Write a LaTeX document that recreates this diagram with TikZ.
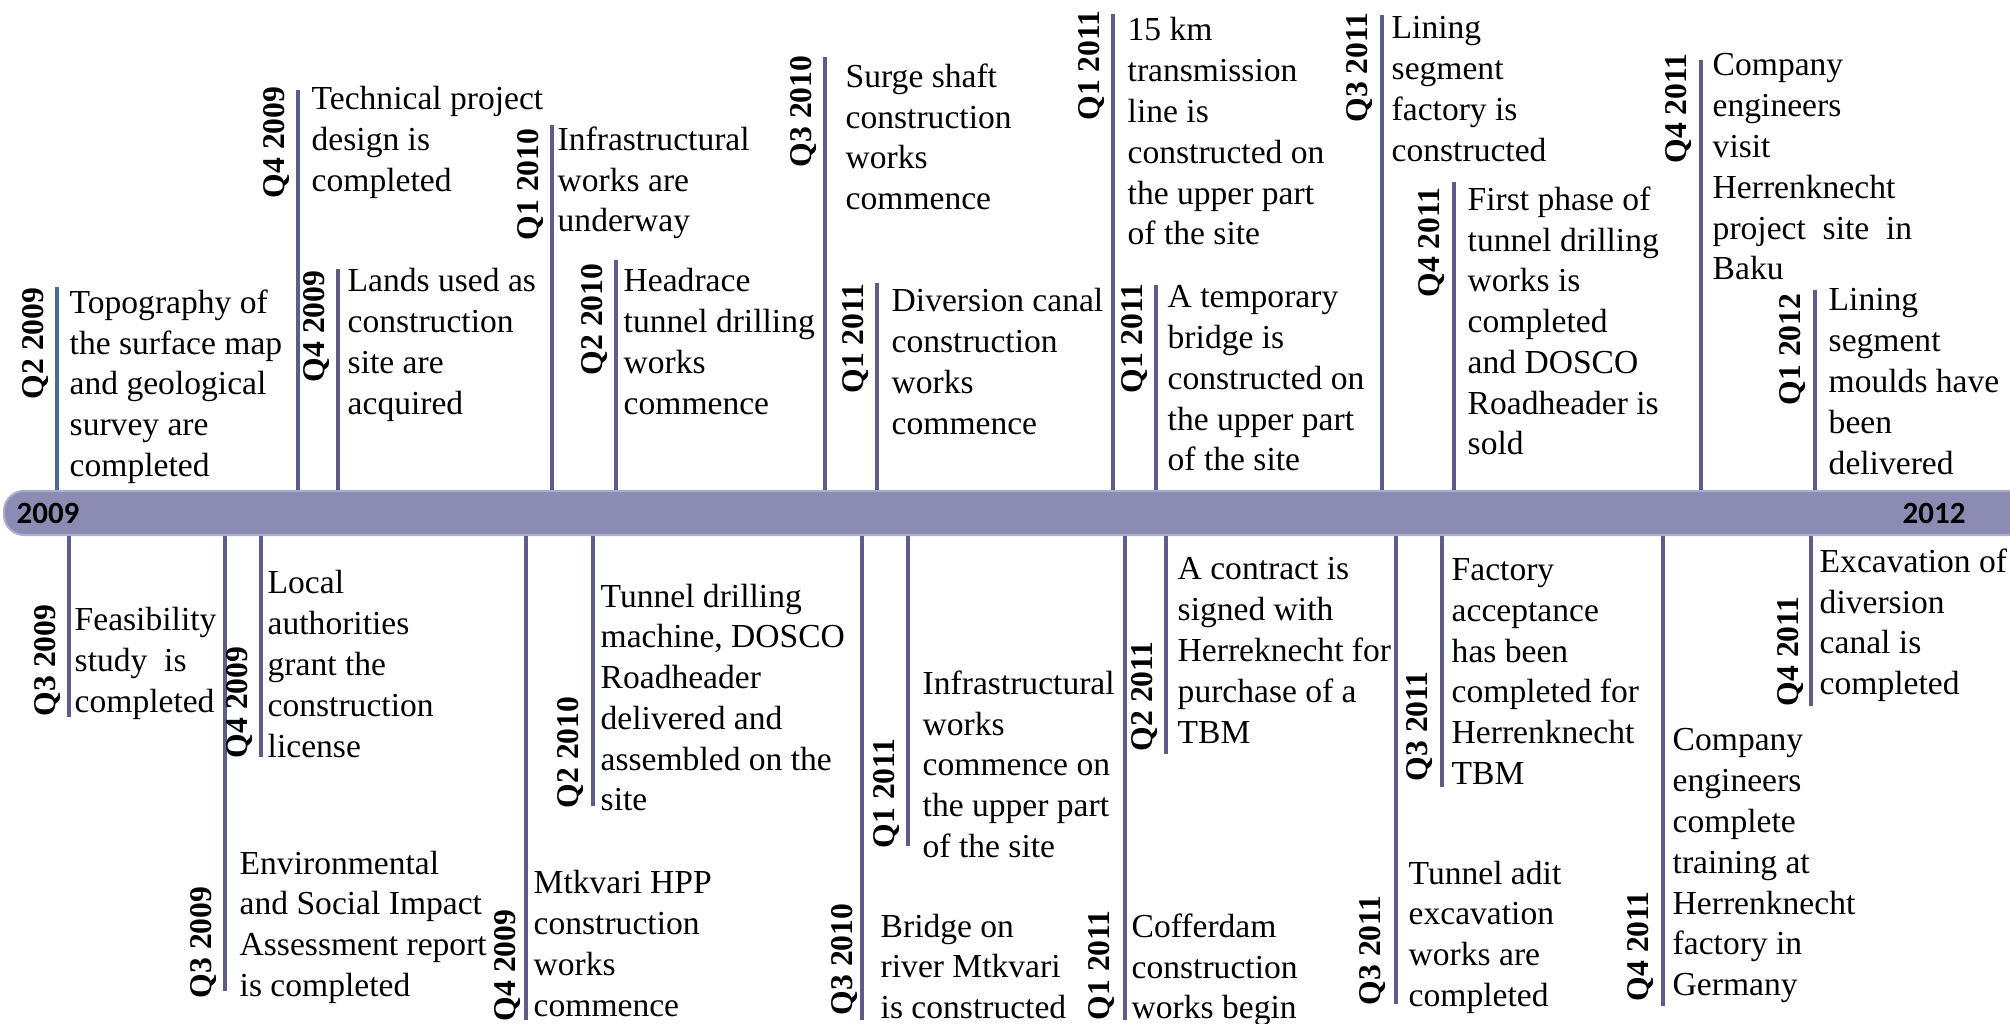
\documentclass[tikz,border=0pt]{standalone}
\usepackage{fontspec}
\setmainfont{Liberation Serif}
\newfontfamily\yearfamily{Carlito}
\newcommand{\evfont}{\fontsize{9.55}{11.6}\selectfont}
\newcommand{\qfont}{\fontsize{9}{10}\selectfont\bfseries}
\newcommand{\yrfont}{\yearfamily\fontsize{8.8}{10}\selectfont\bfseries}

\definecolor{barfill}{RGB}{139,139,179}
\definecolor{barline}{RGB}{172,172,206}
\definecolor{stemcol}{RGB}{92,92,144}
\definecolor{stemblue}{RGB}{72,108,158}

\begin{document}
\begin{tikzpicture}[x=0.1mm,y=-0.1mm,line cap=round,line join=round,
    stem/.style={stemcol,line width=1pt,line cap=butt},
    qlabel/.style={rotate=90,inner sep=0pt,font=\qfont},
    evtext/.style={anchor=north west,inner sep=0pt,align=left,font=\evfont}]
        \useasboundingbox (0,0) rectangle (2010,1024);

        \node[draw=barline,fill=barfill,line width=0.6pt,rounded corners=2mm,
            minimum width=203mm,minimum height=4.4mm,anchor=west,inner sep=0pt]
            (bar) at (3,513) {};
        \node[font=\yrfont,anchor=west,inner sep=0pt] (y2009) at (16,513) {2009};
        \node[font=\yrfont,anchor=west,inner sep=0pt] (y2012) at (1902,513) {2012};

        % above the bar
        \coordinate (sA) at (57,287);
        \draw[stem,stemblue] (sA) -- (sA |- bar.north);
        \node[qlabel,anchor=east] (qA) at (36,287) {Q2 2009};
        \node[evtext] (tA) at (69,289)
            {Topography of\\the surface map\\and geological\\survey are\\completed};

        \coordinate (sB) at (298,90);
        \draw[stem] (sB) -- (sB |- bar.north);
        \node[qlabel,anchor=east] (qB) at (277,86) {Q4 2009};
        \node[evtext] (tB) at (311,86)
            {Technical project\\design is\\completed};

        \coordinate (sC) at (338,269);
        \draw[stem] (sC) -- (sC |- bar.north);
        \node[qlabel,anchor=east] (qC) at (317,270) {Q4 2009};
        \node[evtext] (tC) at (347,268)
            {Lands used as\\construction\\site are\\acquired};

        \coordinate (sD) at (552,125);
        \draw[stem] (sD) -- (sD |- bar.north);
        \node[qlabel,anchor=east] (qD) at (531,128) {Q1 2010};
        \node[evtext] (tD) at (557,126)
            {Infrastructural\\works are\\underway};

        \coordinate (sE) at (616,260);
        \draw[stem] (sE) -- (sE |- bar.north);
        \node[qlabel,anchor=east] (qE) at (595,263) {Q2 2010};
        \node[evtext] (tE) at (623,268)
            {Headrace\\tunnel drilling\\works\\commence};

        \coordinate (sF) at (825,57);
        \draw[stem] (sF) -- (sF |- bar.north);
        \node[qlabel,anchor=east] (qF) at (804,55) {Q3 2010};
        \node[evtext] (tF) at (845,63)
            {Surge shaft\\construction\\works\\commence};

        \coordinate (sG) at (877,283);
        \draw[stem] (sG) -- (sG |- bar.north);
        \node[qlabel,anchor=east] (qG) at (856,283) {Q1 2011};
        \node[evtext] (tG) at (891,288)
            {Diversion canal\\construction\\works\\commence};

        \coordinate (sH) at (1113,14);
        \draw[stem] (sH) -- (sH |- bar.north);
        \node[qlabel,anchor=east] (qH) at (1092,10) {Q1 2011};
        \node[evtext] (tH) at (1127,17)
            {15 km\\transmission\\line is\\constructed on\\the upper part\\of the site};

        \coordinate (sI) at (1156,285);
        \draw[stem] (sI) -- (sI |- bar.north);
        \node[qlabel,anchor=east] (qI) at (1135,283) {Q1 2011};
        \node[evtext] (tI) at (1167,285)
            {A temporary\\bridge is\\constructed on\\the upper part\\of the site};

        \coordinate (sJ) at (1382,15);
        \draw[stem] (sJ) -- (sJ |- bar.north);
        \node[qlabel,anchor=east] (qJ) at (1360,12) {Q3 2011};
        \node[evtext] (tJ) at (1391,16)
            {Lining\\segment\\factory is\\constructed};

        \coordinate (sK) at (1454,182);
        \draw[stem] (sK) -- (sK |- bar.north);
        \node[qlabel,anchor=east] (qK) at (1432,187) {Q4 2011};
        \node[evtext] (tK) at (1467,186)
            {First phase of\\tunnel drilling\\works is\\completed\\and DOSCO\\Roadheader is\\sold};

        \coordinate (sL) at (1701,60);
        \draw[stem] (sL) -- (sL |- bar.north);
        \node[qlabel,anchor=east] (qL) at (1679,53) {Q4 2011};
        \node[evtext] (tL) at (1712,53)
            {Company\\engineers\\visit\\Herrenknecht\\project~~site~~in\\Baku};

        \coordinate (sM) at (1815,290);
        \draw[stem] (sM) -- (sM |- bar.north);
        \node[qlabel,anchor=east] (qM) at (1793,293) {Q1 2012};
        \node[evtext] (tM) at (1828,288)
            {Lining\\segment\\moulds have\\been\\delivered};

        % below the bar
        \coordinate (sN) at (69,717);
        \draw[stem] (sN) -- (sN |- bar.south);
        \node[qlabel,anchor=west] (qN) at (48,717) {Q3 2009};
        \node[evtext] (tN) at (74,607)
            {Feasibility\\study~~is\\completed};

        \coordinate (sO) at (225,991);
        \draw[stem] (sO) -- (sO |- bar.south);
        \node[qlabel,anchor=west] (qO) at (204,999) {Q3 2009};
        \node[evtext] (tO) at (239,850)
            {Environmental\\and Social Impact\\Assessment report\\is completed};

        \coordinate (sP) at (261,757);
        \draw[stem] (sP) -- (sP |- bar.south);
        \node[qlabel,anchor=west] (qP) at (240,759) {Q4 2009};
        \node[evtext] (tP) at (267,570)
            {Local\\authorities\\grant the\\construction\\license};

        \coordinate (sQ) at (526,1020);
        \draw[stem] (sQ) -- (sQ |- bar.south);
        \node[qlabel,anchor=west] (qQ) at (508,1022) {Q4 2009};
        \node[evtext] (tQ) at (533,870)
            {Mtkvari HPP\\construction\\works\\commence};

        \coordinate (sR) at (593,806);
        \draw[stem] (sR) -- (sR |- bar.south);
        \node[qlabel,anchor=west] (qR) at (571,809) {Q2 2010};
        \node[evtext] (tR) at (600,583)
            {Tunnel drilling\\machine, DOSCO\\Roadheader\\delivered and\\assembled on the\\site};

        \coordinate (sS) at (862,1020);
        \draw[stem] (sS) -- (sS |- bar.south);
        \node[qlabel,anchor=west] (qS) at (845,1016) {Q3 2010};
        \node[evtext] (tS) at (880,913)
            {Bridge on\\river Mtkvari\\is constructed};

        \coordinate (sT) at (908,846);
        \draw[stem] (sT) -- (sT |- bar.south);
        \node[qlabel,anchor=west] (qT) at (887,849) {Q1 2011};
        \node[evtext] (tT) at (922,670)
            {Infrastructural\\works\\commence on\\the upper part\\of the site};

        \coordinate (sU) at (1125,1020);
        \draw[stem] (sU) -- (sU |- bar.south);
        \node[qlabel,anchor=west] (qU) at (1102,1021) {Q1 2011};
        \node[evtext] (tU) at (1131,913)
            {Cofferdam\\construction\\works begin};

        \coordinate (sV) at (1166,754);
        \draw[stem] (sV) -- (sV |- bar.south);
        \node[qlabel,anchor=west] (qV) at (1145,752) {Q2 2011};
        \node[evtext] (tV) at (1177,557)
            {A contract is\\signed with\\Herreknecht for\\purchase of a\\TBM};

        \coordinate (sW) at (1396,1004);
        \draw[stem] (sW) -- (sW |- bar.south);
        \node[qlabel,anchor=west] (qW) at (1373,1006) {Q3 2011};
        \node[evtext] (tW) at (1408,860)
            {Tunnel adit\\excavation\\works are\\completed};

        \coordinate (sX) at (1442,787);
        \draw[stem] (sX) -- (sX |- bar.south);
        \node[qlabel,anchor=west] (qX) at (1420,782) {Q3 2011};
        \node[evtext] (tX) at (1451,558)
            {Factory\\acceptance\\has been\\completed for\\Herrenknecht\\TBM};

        \coordinate (sY) at (1663,1006);
        \draw[stem] (sY) -- (sY |- bar.south);
        \node[qlabel,anchor=west] (qY) at (1641,1002) {Q4 2011};
        \node[evtext] (tY) at (1672,728)
            {Company\\engineers\\complete\\training at\\Herrenknecht\\factory in\\Germany};

        \coordinate (sZ) at (1811,706);
        \draw[stem] (sZ) -- (sZ |- bar.south);
        \node[qlabel,anchor=west] (qZ) at (1791,707) {Q4 2011};
        \node[evtext] (tZ) at (1819,548)
            {Excavation of\\diversion\\canal is\\completed};
    \end{tikzpicture}
\end{document}
